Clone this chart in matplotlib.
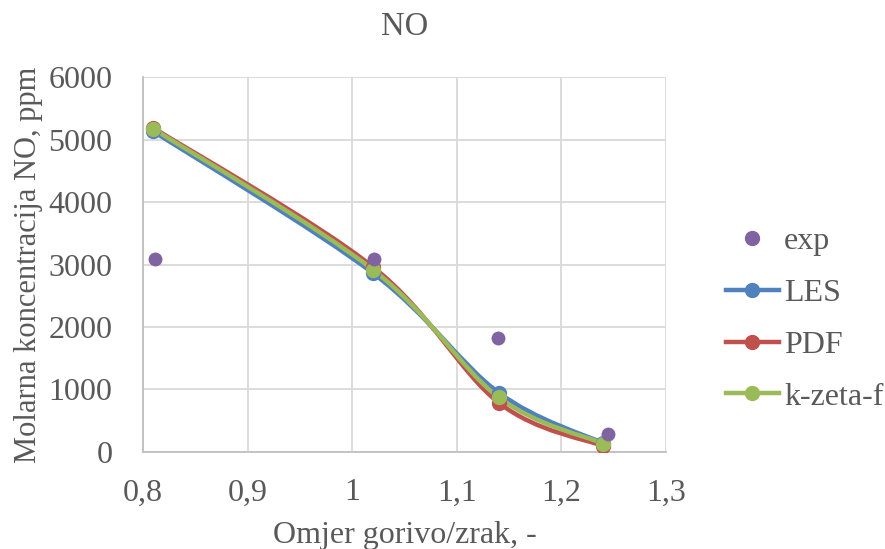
import matplotlib
matplotlib.use("Agg")
import matplotlib.pyplot as plt
from matplotlib.path import Path
from matplotlib.patches import PathPatch
from matplotlib.lines import Line2D
from matplotlib.ticker import FuncFormatter, MultipleLocator

plt.rcParams['font.family'] = ['Liberation Serif', 'DejaVu Serif']

# ---- data ----
title = "NO"
xlabel = "Omjer gorivo/zrak, -"
ylabel = "Molarna koncentracija NO, ppm"

exp_x = [0.811, 1.021, 1.139, 1.245]
exp_y = [3095, 3095, 1830, 285]

sim_x = [0.81, 1.02, 1.14, 1.24]
les_y = [5130, 2860, 950, 140]
pdf_y = [5185, 2960, 790, 95]
kzf_y = [5170, 2915, 875, 135]

series_names = ["LES", "PDF", "k-zeta-f"]
series_colors = ["#4F81BD", "#C0504D", "#9BBB59"]
exp_color = "#8064A2"
text_color = "#595959"


def smooth_path(xs, ys):
    """Excel-like smoothed line: Catmull-Rom segments as cubic Beziers."""
    pts = list(zip(xs, ys))
    n = len(pts)
    verts = [pts[0]]
    codes = [Path.MOVETO]
    for i in range(n - 1):
        p0 = pts[i - 1] if i > 0 else pts[i]
        p1 = pts[i]
        p2 = pts[i + 1]
        p3 = pts[i + 2] if i + 2 < n else pts[i + 1]
        c1 = (p1[0] + (p2[0] - p0[0]) / 6.0, p1[1] + (p2[1] - p0[1]) / 6.0)
        c2 = (p2[0] - (p3[0] - p1[0]) / 6.0, p2[1] - (p3[1] - p1[1]) / 6.0)
        verts += [c1, c2, p2]
        codes += [Path.CURVE4] * 3
    return Path(verts, codes)


fig = plt.figure(figsize=(8.85, 5.49), dpi=100)
ax = fig.add_axes([0.1616, 0.1767, 0.5909, 0.683])

ax.set_xlim(0.8, 1.3)
ax.set_ylim(0, 6000)
ax.xaxis.set_major_locator(MultipleLocator(0.1))
ax.yaxis.set_major_locator(MultipleLocator(1000))


def xfmt(v, pos):
    s = f"{v:.1f}"
    if s.endswith(".0"):
        s = s[:-2]
    return s.replace(".", ",")


ax.xaxis.set_major_formatter(FuncFormatter(xfmt))
ax.yaxis.set_major_formatter(FuncFormatter(lambda v, p: f"{int(round(v))}"))

ax.grid(True, color="#D9D9D9", linewidth=1.3)
ax.set_axisbelow(True)
for s in ["top", "right"]:
    ax.spines[s].set_visible(False)
for s in ["left", "bottom"]:
    ax.spines[s].set_color("#BFBFBF")
    ax.spines[s].set_linewidth(1.3)
ax.tick_params(length=0, labelsize=23, colors=text_color)
ax.tick_params(axis="x", pad=19)
ax.tick_params(axis="y", pad=22)

lw = 3.2
ms = 10
handles = []
ax.scatter(exp_x, exp_y, s=ms ** 2, color=exp_color, zorder=5, linewidths=0)
handles.append(Line2D([], [], linestyle="none", marker="o", markersize=ms,
                      color=exp_color, label="exp"))
for ys, name, col in zip([les_y, pdf_y, kzf_y], series_names, series_colors):
    ax.add_patch(PathPatch(smooth_path(sim_x, ys), fill=False, edgecolor=col,
                           linewidth=lw, capstyle="round", joinstyle="round", zorder=3))
    ax.plot(sim_x, ys, linestyle="none", marker="o", markersize=ms, color=col, zorder=4)
    handles.append(Line2D([], [], color=col, linewidth=lw, marker="o",
                          markersize=ms, label=name))

ax.set_title(title, fontsize=23.5, color=text_color, pad=30)
ax.set_xlabel(xlabel, fontsize=23, color=text_color, labelpad=10)
ax.set_ylabel(ylabel, fontsize=22, color=text_color, labelpad=4)

leg = ax.legend(handles=handles, loc="center left", bbox_to_anchor=(1.09, 0.354),
                frameon=False, fontsize=23, handlelength=1.66, handletextpad=0.16,
                labelspacing=0.7, borderaxespad=0)
for t in leg.get_texts():
    t.set_color(text_color)

fig.savefig("out.png", dpi=100)
